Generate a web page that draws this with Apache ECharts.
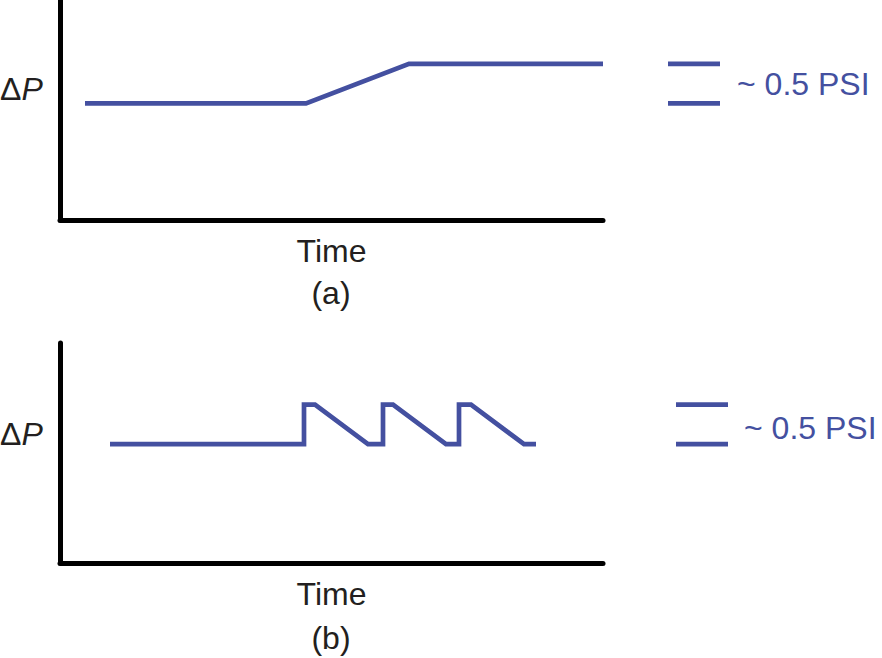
<!DOCTYPE html>
<html>
<head>
<meta charset="utf-8">
<script src="https://cdn.jsdelivr.net/npm/echarts@6/dist/echarts.min.js"></script>
<style>
  html, body { margin: 0; padding: 0; background: #fff; }
  #chart { width: 882px; height: 658px; }
</style>
</head>
<body>
<div id="chart"></div>
<script>
// time / pressure points of the two traces (arbitrary units)
var timeA = [25, 246, 349, 543];
var dpA = [5.3, 5.3, 7.1, 7.1];

var timeB = [50, 244, 244, 255, 308, 323, 323, 333, 386, 399, 399, 411, 464, 476];
var dpB = [5.4, 5.4, 7.2, 7.2, 5.4, 5.4, 7.2, 7.2, 5.4, 5.4, 7.2, 7.2, 5.4, 5.4];

// ~0.5 PSI scale bars
var scaleA = [7.1, 5.3];
var scaleB = [7.2, 5.4];

var panelLabels = ['(a)', '(b)'];
var scaleText = '~ 0.5 PSI';

var BLUE = '#4450a0';
var FONT = '"Liberation Sans", Arial, Helvetica, sans-serif';

function pairs(xs, ys) {
    var out = [];
    for (var i = 0; i < xs.length; i++) {
        out.push([xs[i], ys[i]]);
    }
    return out;
}

function plotXAxis(gridIndex) {
    return {
        type: 'value', gridIndex: gridIndex, min: 0, max: 543,
        name: 'Time', nameLocation: 'middle', nameGap: 15,
        nameTextStyle: { fontSize: 32, fontFamily: FONT, color: '#231f20' },
        axisLine: { show: true, onZero: false, lineStyle: { color: '#000', width: 5 } },
        axisTick: { show: false }, axisLabel: { show: false }, splitLine: { show: false }
    };
}
function plotYAxis(gridIndex) {
    return {
        type: 'value', gridIndex: gridIndex, min: 0, max: 10,
        axisLine: { show: true, onZero: false, lineStyle: { color: '#000', width: 5 } },
        axisTick: { show: false }, axisLabel: { show: false }, splitLine: { show: false }
    };
}
function hiddenAxis(type, gridIndex, max) {
    return {
        type: type, gridIndex: gridIndex, min: 0, max: max, show: false,
        splitLine: { show: false }
    };
}
function lineSeries(xi, yi, data) {
    return {
        type: 'line', xAxisIndex: xi, yAxisIndex: yi, data: data,
        showSymbol: false, symbol: 'none', animation: false, silent: true,
        lineStyle: { color: BLUE, width: 4.7, join: 'miter', cap: 'butt' }
    };
}

var series = [
    lineSeries(0, 0, pairs(timeA, dpA)),
    lineSeries(1, 1, pairs(timeB, dpB))
];
scaleA.forEach(function (v) { series.push(lineSeries(2, 2, [[0, v], [1, v]])); });
scaleB.forEach(function (v) { series.push(lineSeries(3, 3, [[0, v], [1, v]])); });

function deltaP(top) {
    return {
        type: 'text', left: 0, top: top,
        style: {
            text: '{d|Δ}{p|P}',
            rich: {
                d: { fontSize: 32, fontFamily: FONT, fill: '#231f20' },
                p: { fontSize: 32, fontFamily: FONT, fontStyle: 'italic', fill: '#231f20' }
            }
        }
    };
}
function plainText(x, y, text, color, align) {
    return {
        type: 'text', x: x, y: y,
        style: {
            text: text, fontSize: 32, fontFamily: FONT, fill: color,
            textAlign: align, textVerticalAlign: 'middle'
        }
    };
}

var option = {
    backgroundColor: '#fff',
    animation: false,
    grid: [
        { left: 60, top: 0, width: 543, height: 220 },
        { left: 60, top: 343, width: 543, height: 220 },
        { left: 668, top: 0, width: 52, height: 220 },
        { left: 676, top: 343, width: 52, height: 220 }
    ],
    xAxis: [plotXAxis(0), plotXAxis(1), hiddenAxis('value', 2, 1), hiddenAxis('value', 3, 1)],
    yAxis: [plotYAxis(0), plotYAxis(1), hiddenAxis('value', 2, 10), hiddenAxis('value', 3, 10)],
    series: series,
    graphic: [
        deltaP(73),
        deltaP(418),
        plainText(331, 293, panelLabels[0], '#231f20', 'center'),
        plainText(331, 638, panelLabels[1], '#231f20', 'center'),
        plainText(737, 84, scaleText, BLUE, 'left'),
        plainText(744, 428, scaleText, BLUE, 'left')
    ]
};

var chart = echarts.init(document.getElementById('chart'), null, { renderer: 'svg' });
chart.setOption(option);
</script>
</body>
</html>
